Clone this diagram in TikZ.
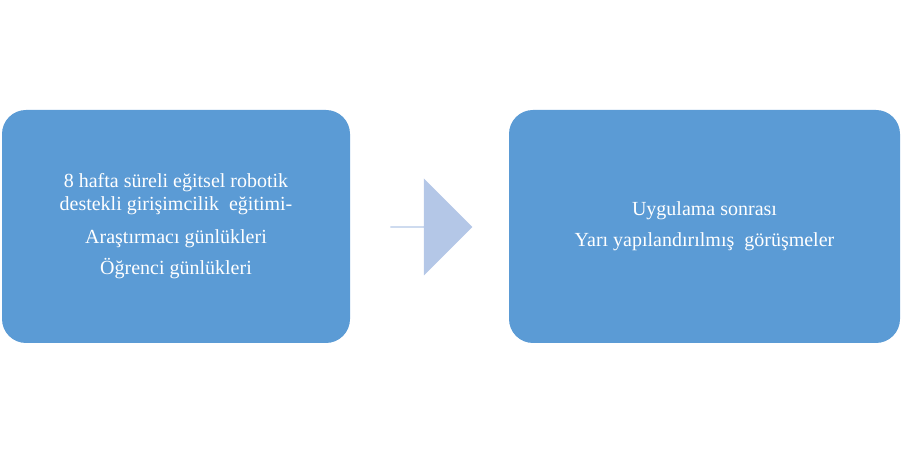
\documentclass[tikz,border=0pt]{standalone}
\usepackage{fontspec}
\setmainfont{Liberation Serif}
\usetikzlibrary{shapes.arrows}
\definecolor{boxblue}{HTML}{5B9BD5}
\definecolor{arrowblue}{HTML}{B4C7E7}
\begin{document}
\begin{tikzpicture}[x=1pt,y=1pt,
  box/.style={fill=boxblue,draw=none,rounded corners=24pt,text=white,align=center,
    font=\fontsize{20}{27}\selectfont,inner sep=0pt},
  arr/.style={single arrow,fill=arrowblue,draw=none,minimum width=97pt,minimum height=82pt,
    single arrow head extend=18.5pt,single arrow head indent=0pt,inner sep=0pt}]
\useasboundingbox (0,0) rectangle (902,454);
\node[box,minimum width=348pt,minimum height=233pt] (a) at (176,227.5)
  {8 hafta süreli eğitsel robotik\\[-4pt]destekli girişimcilik\ \ eğitimi-\\[6pt]Araştırmacı günlükleri\\[4pt]Öğrenci günlükleri};
\node[box,minimum width=391pt,minimum height=233pt] (b) at (704.5,227.5)
  {Uygulama sonrası\\[4pt]Yarı yapılandırılmış\ \ görüşmeler};
\node[arr] (c) at (431,227) {};
\end{tikzpicture}
\end{document}
